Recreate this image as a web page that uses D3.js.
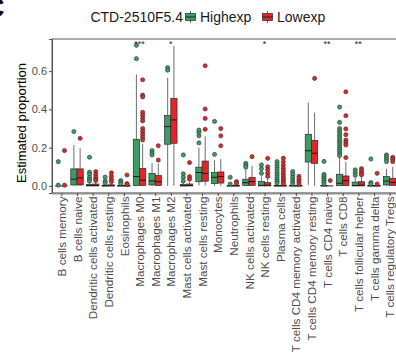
<!DOCTYPE html>
<html>
<head>
<meta charset="utf-8">
<script src="https://cdn.jsdelivr.net/npm/d3@7"></script>
<style>
  html, body { margin: 0; padding: 0; background: #fff; overflow: hidden; }
  svg { display: block; font-family: "Liberation Sans", Arial, Helvetica, sans-serif; }
</style>
</head>
<body>
<svg id="chart" width="396" height="356"></svg>
<script>
// Immune cell types (x categories)
const cellTypes = [
  "B cells memory", "B cells naive", "Dendritic cells activated", "Dendritic cells resting",
  "Eosinophils", "Macrophages M0", "Macrophages M1", "Macrophages M2",
  "Mast cells activated", "Mast cells resting", "Monocytes", "Neutrophils",
  "NK cells activated", "NK cells resting", "Plasma cells", "T cells CD4 memory activated",
  "T cells CD4 memory resting", "T cells CD4 naive", "T cells CD8", "T cells follicular helper",
  "T cells gamma delta", "T cells regulatory Tregs"
];

const groups = ["Highexp", "Lowexp"];
const groupColors = ["#3a9d63", "#e0262b"];

// Box statistics per cell type: [lower whisker, Q1, median, Q3, upper whisker]
const highStats = [
  [0, 0, 0, 0, 0],
  [0, 0.005, 0.035, 0.089, 0.214],
  [0, 0, 0.002, 0.008, 0.018],
  [0, 0, 0, 0.004, 0.008],
  [0, 0, 0, 0.003, 0.006],
  [0, 0.002, 0.049, 0.244, 0.583],
  [0, 0.005, 0.026, 0.066, 0.12],
  [0, 0.218, 0.31, 0.369, 0.565],
  [0, 0, 0.001, 0.008, 0.015],
  [0.002, 0.022, 0.07, 0.098, 0.2],
  [0, 0.012, 0.045, 0.07, 0.135],
  [0, 0, 0, 0.002, 0.004],
  [0, 0.002, 0.017, 0.035, 0.087],
  [0, 0, 0.003, 0.023, 0.05],
  [0, 0, 0, 0.003, 0.006],
  [0, 0, 0, 0.002, 0.004],
  [0.005, 0.125, 0.184, 0.27, 0.436],
  [0, 0, 0, 0.002, 0.004],
  [0, 0.001, 0.014, 0.061, 0.15],
  [0, 0, 0.002, 0.02, 0.045],
  [0, 0, 0, 0.002, 0.004],
  [0, 0.005, 0.025, 0.049, 0.089]
];
const lowStats = [
  [0, 0, 0, 0, 0],
  [0, 0.005, 0.042, 0.089, 0.197],
  [0, 0, 0.002, 0.01, 0.02],
  [0, 0, 0.001, 0.006, 0.012],
  [0, 0, 0, 0.002, 0.004],
  [0, 0.002, 0.03, 0.092, 0.22],
  [0, 0.003, 0.022, 0.054, 0.115],
  [0, 0.223, 0.345, 0.458, 0.731],
  [0, 0, 0.002, 0.01, 0.02],
  [0.002, 0.025, 0.065, 0.13, 0.26],
  [0, 0.015, 0.049, 0.073, 0.14],
  [0, 0, 0, 0.004, 0.008],
  [0, 0.003, 0.023, 0.044, 0.105],
  [0, 0, 0.003, 0.017, 0.04],
  [0, 0, 0, 0.004, 0.008],
  [0, 0, 0, 0.002, 0.004],
  [0, 0.118, 0.171, 0.238, 0.383],
  [0, 0, 0, 0, 0],
  [0, 0.002, 0.028, 0.052, 0.125],
  [0, 0, 0.004, 0.022, 0.05],
  [0, 0, 0, 0.002, 0.004],
  [0, 0.003, 0.018, 0.04, 0.1]
];

// Outlying samples per cell type
const highOutliers = [
  [0.127, 0.004],
  [0.284],
  [0.15, 0.072, 0.061, 0.045, 0.035, 0.025],
  [0.046, 0.025, 0.015],
  [0.028, 0.02, 0.012],
  [0.735, 0.665],
  [0.185, 0.172, 0.162],
  [0.618, 0.605],
  [0.162, 0.063, 0.045, 0.025],
  [0.225, 0.262, 0.28, 0.292],
  [0.165, 0.337],
  [0.045, 0.01],
  [0.118, 0.108, 0.098],
  [0.11, 0.09, 0.066],
  [0.127, 0.112, 0.098, 0.085, 0.07, 0.058, 0.046, 0.035, 0.024, 0.015],
  [0.075, 0.06, 0.045, 0.032, 0.02, 0.01],
  [],
  [0.128, 0.06, 0.05, 0.04, 0.03, 0.02, 0.01],
  [0.412, 0.332, 0.3, 0.288, 0.276, 0.264, 0.252, 0.24, 0.228, 0.216, 0.204, 0.192, 0.18, 0.168, 0.158],
  [0.084, 0.07, 0.056],
  [0.141, 0.018, 0.01],
  [0.162, 0.152, 0.14, 0.127]
];
const lowOutliers = [
  [0.185, 0.004],
  [0.249],
  [0.075, 0.06, 0.045, 0.035, 0.028],
  [0.068, 0.05, 0.035, 0.022],
  [0.057, 0.012, 0.008],
  [0.555, 0.475, 0.465, 0.385, 0.37, 0.355, 0.34, 0.3, 0.285, 0.27, 0.255, 0.24],
  [0.21, 0.135],
  [],
  [0.122, 0.049, 0.035],
  [0.296, 0.353, 0.402, 0.628],
  [0.21, 0.262, 0.3],
  [0.022, 0.014],
  [0.153],
  [0.144, 0.1, 0.084, 0.066, 0.05],
  [0.145, 0.125, 0.108, 0.092, 0.078, 0.064, 0.052, 0.04, 0.03, 0.02, 0.012],
  [0.05, 0.035, 0.022, 0.01],
  [0.562],
  [0.028],
  [0.492, 0.367, 0.298, 0.268, 0.24, 0.227, 0.214, 0.148],
  [0.09, 0.078, 0.066, 0.058],
  [0.066, 0.01],
  [0.15, 0.14, 0.127]
];

// Significance marks from the group comparison
const sigLabels = ["", "", "", "", "", "***", "", "*", "", "", "", "", "", "*", "", "", "", "**", "", "**", "", ""];

const yTicks = [0, 0.2, 0.4, 0.6];
const yTickLabels = ["0.0", "0.2", "0.4", "0.6"];

const legendTitle = "CTD-2510F5.4";
const yTitle = "Estimated proportion";

// ---- layout ----
const svg = d3.select("#chart");
const panel = { left: 52, top: 39, right: 399, bottom: 193 };

const x = d3.scalePoint().domain(cellTypes).range([panel.left, panel.right]).padding(0.6);
const step = x.step();
const y = d3.scaleLinear().domain([-0.037, 0.768]).range([panel.bottom, panel.top]);

const dodge = d3.scaleBand().domain(groups).range([-0.4 * step, 0.4 * step]);
const boxW = dodge.bandwidth();

// panel letter in the corner (mostly outside the page)
svg.append("text")
  .attr("x", -15).attr("y", 17)
  .attr("font-size", 27).attr("font-weight", "bold").attr("fill", "#000")
  .text("C");

// panel frame
svg.append("rect")
  .attr("x", panel.left).attr("y", panel.top)
  .attr("width", panel.right - panel.left).attr("height", panel.bottom - panel.top)
  .attr("fill", "none").attr("stroke", "#4a4a4a").attr("stroke-width", 0.9);

// y axis
const yAxis = svg.append("g").attr("transform", `translate(${panel.left},0)`)
  .call(d3.axisLeft(y).tickValues(yTicks).tickSize(3).tickPadding(2)
    .tickFormat((d, i) => yTickLabels[i]));
yAxis.select(".domain").attr("stroke", "#4a4a4a").attr("stroke-width", 0.9);
yAxis.selectAll(".tick line").attr("stroke", "#4a4a4a");
yAxis.selectAll(".tick text").attr("font-size", 11).attr("fill", "#4d4d4d")
  .attr("font-family", "Liberation Sans, Arial, sans-serif");

// x axis
const xAxis = svg.append("g").attr("transform", `translate(0,${panel.bottom})`)
  .call(d3.axisBottom(x).tickSize(3).tickSizeOuter(0));
xAxis.select(".domain").attr("stroke", "#8f8f8f").attr("stroke-width", 1.8);
xAxis.selectAll(".tick line").attr("stroke", "#4a4a4a");
xAxis.selectAll(".tick text")
  .attr("font-size", 11.7).attr("fill", "#4d4d4d")
  .attr("font-family", "Liberation Sans, Arial, sans-serif")
  .attr("text-anchor", "end")
  .attr("transform", "rotate(-90)")
  .attr("x", -3.5).attr("y", 0).attr("dy", "0.35em");

// y title
svg.append("text")
  .attr("transform", `translate(21,123) rotate(-90)`)
  .attr("text-anchor", "middle").attr("dy", "0.35em")
  .attr("font-size", 13).attr("fill", "#000")
  .text(yTitle);

// ---- boxplots ----
const boxData = [];
cellTypes.forEach((c, i) => {
  [highStats, lowStats].forEach((stats, g) => {
    const s = stats[i];
    boxData.push({
      cat: c, g, lo: s[0], q1: s[1], med: s[2], q3: s[3], hi: s[4],
      out: (g === 0 ? highOutliers : lowOutliers)[i]
    });
  });
});

const cx = d => x(d.cat) + dodge(groups[d.g]) + boxW / 2;
const plot = svg.append("g");

// whiskers
plot.selectAll("line.wlo").data(boxData).join("line")
  .attr("x1", cx).attr("x2", cx)
  .attr("y1", d => y(d.lo)).attr("y2", d => y(d.q1))
  .attr("stroke", "#6e6e6e").attr("stroke-width", 1);
plot.selectAll("line.whi").data(boxData).join("line")
  .attr("x1", cx).attr("x2", cx)
  .attr("y1", d => y(d.q3)).attr("y2", d => y(d.hi))
  .attr("stroke", "#6e6e6e").attr("stroke-width", 1);

// boxes
plot.selectAll("rect.box").data(boxData).join("rect")
  .attr("x", d => cx(d) - boxW / 2).attr("width", boxW)
  .attr("y", d => y(d.q3)).attr("height", d => Math.max(0, y(d.q1) - y(d.q3)))
  .attr("fill", d => groupColors[d.g])
  .attr("stroke", "#2b2b2b").attr("stroke-width", 0.7);

// medians
plot.selectAll("line.med").data(boxData).join("line")
  .attr("x1", d => cx(d) - boxW / 2).attr("x2", d => cx(d) + boxW / 2)
  .attr("y1", d => y(d.med)).attr("y2", d => y(d.med))
  .attr("stroke", "#1a1a1a").attr("stroke-width", 1);

// outliers
const outData = boxData.flatMap(d => d.out.map(v => ({ cat: d.cat, g: d.g, v })));
plot.selectAll("circle.out").data(outData).join("circle")
  .attr("cx", d => x(d.cat) + dodge(groups[d.g]) + boxW / 2)
  .attr("cy", d => y(d.v))
  .attr("r", 2.1)
  .attr("fill", d => groupColors[d.g])
  .attr("stroke", "#333").attr("stroke-width", 0.6);

// significance marks
svg.selectAll("text.sig").data(cellTypes.map((c, i) => ({ c, s: sigLabels[i] })).filter(d => d.s))
  .join("text")
  .attr("x", d => x(d.c)).attr("y", 46.5)
  .attr("text-anchor", "middle").attr("font-size", 9).attr("fill", "#222")
  .text(d => d.s);

// ---- legend ----
const legend = svg.append("g");
legend.append("text")
  .attr("x", 183).attr("y", 22).attr("text-anchor", "end")
  .attr("font-size", 14).attr("fill", "#1a1a1a").text(legendTitle);

const legendX = [185, 262];
groups.forEach((g, i) => {
  const k = legend.append("g").attr("transform", `translate(${legendX[i]},0)`);
  k.append("line").attr("x1", 5.5).attr("x2", 5.5).attr("y1", 11).attr("y2", 23)
    .attr("stroke", "#555").attr("stroke-width", 0.9);
  k.append("rect").attr("x", 0.5).attr("y", 13.5).attr("width", 10).attr("height", 7)
    .attr("fill", groupColors[i]).attr("stroke", "#2b2b2b").attr("stroke-width", 0.7);
  k.append("line").attr("x1", 0.5).attr("x2", 10.5).attr("y1", 17).attr("y2", 17)
    .attr("stroke", "#1a1a1a").attr("stroke-width", 0.9);
  k.append("text").attr("x", 15).attr("y", 22)
    .attr("font-size", 14).attr("fill", "#1a1a1a").text(g);
});
</script>
</body>
</html>
